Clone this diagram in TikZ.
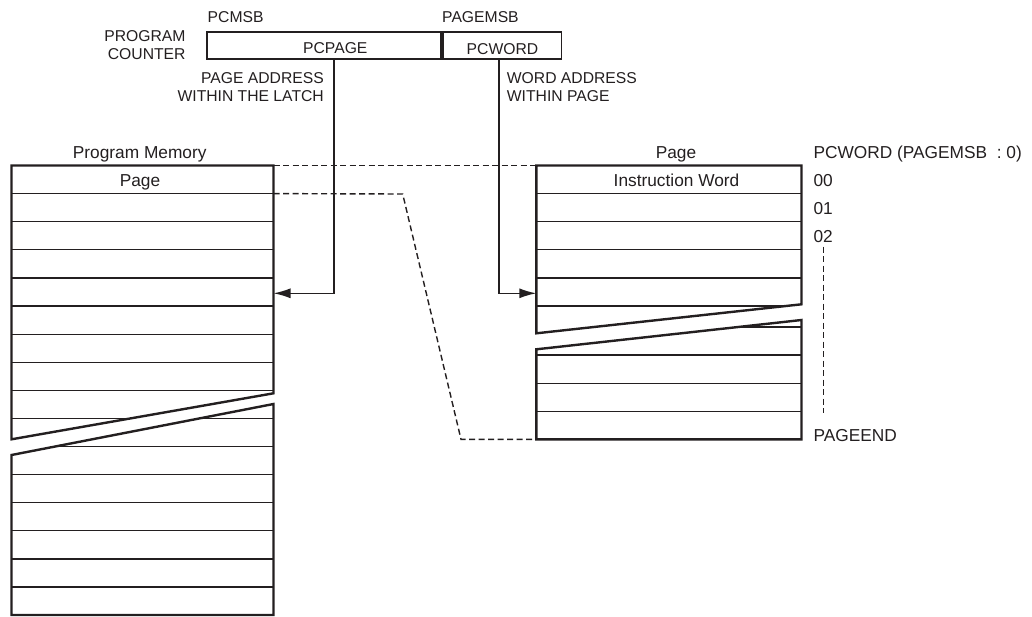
\documentclass[tikz,border=0pt]{standalone}
\usepackage{fontspec}
\setmainfont{Liberation Sans}
\usetikzlibrary{arrows.meta,calc}
\definecolor{ink}{HTML}{231F20}

\begin{document}
\begin{tikzpicture}[x=1pt,y=-1pt,
    outline/.style={ink,line width=2.4pt,line join=miter},
    rowline/.style={ink,line width=1.2pt},
    link/.style={ink,line width=1.4pt},
    guide/.style={ink,line width=1.4pt,dash pattern=on 6pt off 3.5pt},
    regbox/.style={draw=ink,line width=1.8pt,inner sep=0pt,minimum height=27.6pt,anchor=north west},
    toptext/.style={ink,inner sep=0pt,font=\fontsize{15.7}{18.5}\selectfont},
    lowtext/.style={ink,inner sep=0pt,font=\fontsize{17.3}{20}\selectfont},
    tip/.style={-{Latex[length=17pt,width=10pt]}}]
  \useasboundingbox (0,0) rectangle (1032,616);
  % Define coordinates
  \coordinate (memNW) at (11.5,165.5);
  \coordinate (memNE) at (273.5,165.5);
  \coordinate (memRow) at (273.5,193.6);
  \coordinate (memIn) at (273.5,293.3);
  \coordinate (pageNW) at (536.3,165.5);
  \coordinate (pageSW) at (536.3,439.3);
  \coordinate (pageIn) at (536.3,293.3);
  \coordinate (bendA) at (402.7,194);
  \coordinate (bendB) at (461,439.3);
  \coordinate (tapA) at (334,0);
  \coordinate (tapB) at (499,0);
  % Program counter
  \node[regbox,minimum width=234.3pt] (pcpage) at (205.7,30.7) {};
  \node[regbox,minimum width=118.7pt] (pcword) at (pcpage.north east) {};
  \node[toptext,anchor=base] (pcpagetxt) at (335.3,53.5) {PCPAGE};
  \node[toptext,anchor=base] (pcwordtxt) at (502.5,54) {PCWORD};
  \node[toptext,anchor=base west] (pcmsb) at (207.5,22) {PCMSB};
  \node[toptext,anchor=base west] (pagemsb) at (442,22) {PAGEMSB};
  \node[toptext,anchor=north east,align=right] (pclabel) at (185.7,30.3) {PROGRAM\\COUNTER};
  \node[toptext,anchor=north east,align=right] (pagenote) at (324,71.9) {PAGE ADDRESS\\WITHIN THE LATCH};
  \node[toptext,anchor=north west,align=left] (wordnote) at (506.7,71.9) {WORD ADDRESS\\WITHIN PAGE};
  % Program memory, upper part
  \begin{scope}
    \clip (11.5,439.3) -- (memNW) -- (memNE) -- (273.5,393.3) -- cycle;
    \foreach \k in {1,...,10}
      \draw[rowline] (11.5,165.5+28.1*\k) -- (273.5,165.5+28.1*\k);
  \end{scope}
  \draw[outline] (11.5,439.3) -- (memNW) -- (memNE) -- (273.5,393.3) -- cycle;
  % Program memory, lower part
  \begin{scope}
    \clip (11.5,455) -- (273.5,404) -- (273.5,615) -- (11.5,615) -- cycle;
    \foreach \k in {9,...,15}
      \draw[rowline] (11.5,165.5+28.1*\k) -- (273.5,165.5+28.1*\k);
  \end{scope}
  \draw[outline] (11.5,455) -- (273.5,404) -- (273.5,615) -- (11.5,615) -- cycle;
  % Page, upper part
  \begin{scope}
    \clip (536.3,333.3) -- (pageNW) -- (801.5,165.5) -- (801.5,304.3) -- cycle;
    \foreach \k in {1,...,5}
      \draw[rowline] (536.3,165.5+28.1*\k) -- (801.5,165.5+28.1*\k);
  \end{scope}
  \draw[outline] (536.3,333.3) -- (pageNW) -- (801.5,165.5) -- (801.5,304.3) -- cycle;
  % Page, lower part
  \begin{scope}
    \clip (536.3,349.3) -- (801.5,320) -- (801.5,439.3) -- (pageSW) -- cycle;
    \foreach \k in {1,...,4}
      \draw[rowline] (536.3,439.3-28.1*\k) -- (801.5,439.3-28.1*\k);
  \end{scope}
  \draw[outline] (536.3,349.3) -- (801.5,320) -- (801.5,439.3) -- (pageSW) -- cycle;
  % Labels
  \node[lowtext,anchor=base] (memtitle) at (139.7,158.3) {Program Memory};
  \node[lowtext,anchor=base] (memrowtxt) at (140,186) {Page};
  \node[lowtext,anchor=base] (pagetitle) at (676,158.3) {Page};
  \node[lowtext,anchor=base] (wordtxt) at (676.5,186) {Instruction Word};
  \node[lowtext,anchor=base west] (idxtitle) at (813.3,158.3) {PCWORD (PAGEMSB\ \ : 0)};
  \foreach \w/\y in {00/186,01/214,02/242}
    \node[lowtext,anchor=base west] (w\w) at (813.3,\y) {\w};
  \node[lowtext,anchor=base west] (pageend) at (813.3,441) {PAGEEND};
  % Address paths
  \draw[link,tip] (pcpage.south -| tapA) |- (memIn);
  \draw[link,tip] (pcword.south -| tapB) |- (pageIn);
  % Page outline guides
  \draw[guide] (memNE) -- (pageNW);
  \draw[guide] (memRow) -- (bendA) -- (bendB) -- (pageSW);
  \draw[guide] (823.3,246.7) -- (823.3,413.3);
\end{tikzpicture}
\end{document}
